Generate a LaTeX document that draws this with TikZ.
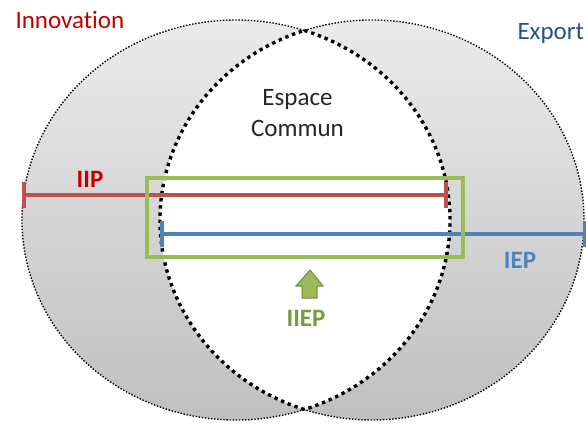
\documentclass[tikz,border=0pt]{standalone}
\usepackage{fontspec}
\setmainfont{Carlito}[Ligatures=NoCommon]
\usepackage{tikz}
\usetikzlibrary{arrows.meta,calc}
\definecolor{innovred}{RGB}{192,0,0}
\definecolor{exportblue}{RGB}{36,82,138}
\definecolor{barred}{RGB}{192,80,77}
\definecolor{barblue}{RGB}{79,129,189}
\definecolor{boxgreen}{RGB}{155,187,89}
\definecolor{textgreen}{RGB}{119,155,60}
\definecolor{edgegreen}{RGB}{113,137,63}
\tikzset{
    lbl/.style={font=\fontsize{25}{31}\selectfont},
    boldlbl/.style={font=\fontsize{25}{31}\selectfont\bfseries},
    outerline/.style={line width=1.4pt,dash pattern=on 1.4pt off 1.7pt},
    lensline/.style={line width=3.4pt,dash pattern=on 3.4pt off 3.8pt},
    bar/.style={line width=3.2pt,{Bar[width=26pt,line width=4pt]}-{Bar[width=26pt,line width=4pt]}},
    greenbox/.style={rectangle,draw=boxgreen,line width=4pt,inner sep=0pt},
    uparrow/.style={draw=edgegreen,line width=1pt,fill=boxgreen,line join=miter},
}
\begin{document}
\begin{tikzpicture}[x=1pt,y=-1pt]
\useasboundingbox (0,0) rectangle (586,425);
\coordinate (cL) at (236,220);
\coordinate (cR) at (372,220);
% sets
\shade[top color=black!8,bottom color=black!25]
  (cL) ellipse [x radius=214,y radius=200]
  (cR) ellipse [x radius=212,y radius=200];
\begin{scope}
  \clip (cL) ellipse [x radius=214,y radius=200];
  \fill[white] (cR) ellipse [x radius=212,y radius=200];
\end{scope}
\draw[outerline] ([shift={(cL)}]71.4:214 and 200)
  arc[start angle=71.4,end angle=288.6,x radius=214,y radius=200];
\draw[outerline] ([shift={(cR)}]-108.6:212 and 200)
  arc[start angle=-108.6,end angle=108.6,x radius=212,y radius=200];
\draw[lensline] ([shift={(cL)}]-71.4:214 and 200)
  arc[start angle=-71.4,end angle=71.4,x radius=214,y radius=200];
\draw[lensline] ([shift={(cR)}]108.6:212 and 200)
  arc[start angle=108.6,end angle=251.4,x radius=212,y radius=200];
% labels
\node[lbl,text=innovred,anchor=base west] (innov) at (12,29) {Innovation};
\node[lbl,text=exportblue,anchor=base west] (export) at (514,40) {Export};
\node[lbl,text=black!85,align=center] (espace) at (297.5,113) {Espace\\Commun};
% ranges
\coordinate (iipL) at (22,195);
\coordinate (iipR) at (448,195);
\coordinate (iepL) at (160,234);
\coordinate (iepR) at (587,234);
\draw[bar,barred] (iipL) -- (iipR);
\draw[bar,barblue] (iepL) -- (iepR);
\node[boldlbl,text=innovred,anchor=base] (iip) at (90,187) {IIP};
\node[boldlbl,text=barblue,anchor=base] (iep) at (520,268) {IEP};
\node[greenbox,minimum width=316pt,minimum height=79pt] (iiepbox) at (305,217.5) {};
\coordinate (up) at (310,270);
\draw[uparrow] (up) -- ++(13,16) -- ++(-6,0) -- ++(0,12) -- ++(-15,0)
  -- ++(0,-12) -- ++(-6,0) -- cycle;
\node[boldlbl,text=textgreen,anchor=base] (iiep) at (306,326) {IIEP};
\end{tikzpicture}
\end{document}
